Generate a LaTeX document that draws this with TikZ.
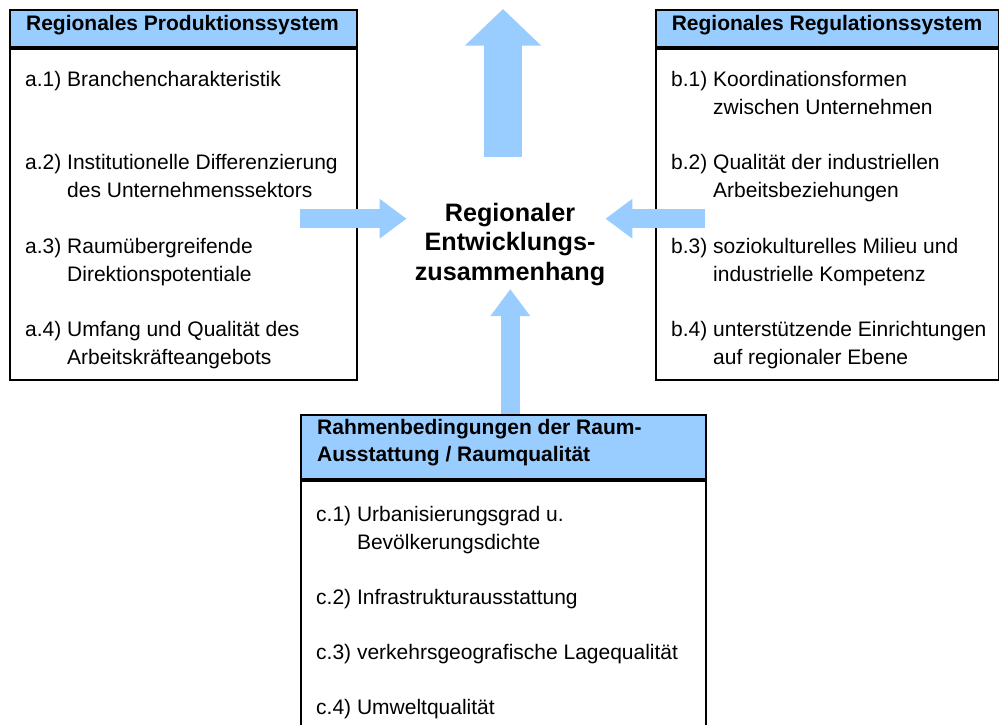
\documentclass[tikz,border=0pt]{standalone}
\usepackage{fontspec}
\setmainfont{Liberation Sans}
\usetikzlibrary{arrows.meta}

\definecolor{hdblue}{RGB}{153,204,255}
\newcommand{\entry}[2]{#1~\begin{tabular}[t]{@{}l@{}}#2\end{tabular}}

\begin{document}
\begin{tikzpicture}[x=1pt, y=-1pt,
	hdbox/.style = {draw, line width=2pt, fill=hdblue, inner sep=0pt},
	bodybox/.style = {draw, line width=2pt, fill=white, inner sep=0pt},
	title/.style = {inner sep=0pt, font=\bfseries\fontsize{21}{26.5}\selectfont},
	entrytext/.style = {anchor=base west, inner sep=0pt,
		font=\fontsize{21}{28}\selectfont},
	barrow/.style = {draw=hdblue, line width=19.3pt,
		-{Triangle[length=27pt, width=38pt]}}]
	
	\useasboundingbox (0,0) rectangle (999,724);
	
	% Production system
	\node[hdbox, minimum width=347pt, minimum height=37pt, anchor=north west] (prodh) at (9,9) {};
	\node[bodybox, minimum width=347pt, minimum height=331pt, anchor=north] (prodb) at (prodh.south) {};
	\node[title, anchor=base] (prodt) at (182.5,30) {Regionales Produktionssystem};
	\node[entrytext] (a1) at (25,86) {\entry{a.1)}{Branchencharakteristik}};
	\node[entrytext] (a2) at (25,169.5) {\entry{a.2)}{Institutionelle Differenzierung\\des Unternehmenssektors}};
	\node[entrytext] (a3) at (25,253) {\entry{a.3)}{Raumübergreifende\\Direktionspotentiale}};
	\node[entrytext] (a4) at (25,336) {\entry{a.4)}{Umfang und Qualität des\\Arbeitskräfteangebots}};
	
	% Regulation system
	\node[hdbox, minimum width=343pt, minimum height=37pt, anchor=north west] (regh) at (655,9) {};
	\node[bodybox, minimum width=343pt, minimum height=331pt, anchor=north] (regb) at (regh.south) {};
	\node[title, anchor=base] (regt) at (827,30) {Regionales Regulationssystem};
	\node[entrytext] (b1) at (671,86) {\entry{b.1)}{Koordinationsformen\\zwischen Unternehmen}};
	\node[entrytext] (b2) at (671,169.5) {\entry{b.2)}{Qualität der industriellen\\Arbeitsbeziehungen}};
	\node[entrytext] (b3) at (671,253) {\entry{b.3)}{soziokulturelles Milieu und\\industrielle Kompetenz}};
	\node[entrytext] (b4) at (671,336) {\entry{b.4)}{unterstützende Einrichtungen\\auf regionaler Ebene}};
	
	% Framework conditions
	\node[hdbox, minimum width=405pt, minimum height=64pt, anchor=north west] (rahmh) at (300,414) {};
	\node[bodybox, minimum width=405pt, minimum height=262pt, anchor=north] (rahmb) at (rahmh.south) {};
	\node[title, anchor=base west] (rahmt) at (317,434.5) {\begin{tabular}[t]{@{}l@{}}Rahmenbedingungen der Raum-\\Ausstattung / Raumqualität\end{tabular}};
	\node[entrytext] (c1) at (316,521.5) {\entry{c.1)}{Urbanisierungsgrad u.\\Bevölkerungsdichte}};
	\node[entrytext] (c2) at (316,604.5) {\entry{c.2)}{Infrastrukturausstattung}};
	\node[entrytext] (c3) at (316,659.5) {\entry{c.3)}{verkehrsgeografische Lagequalität}};
	\node[entrytext] (c4) at (316,714.5) {\entry{c.4)}{Umweltqualität}};
	
	% Centre
	\node[inner sep=0pt, anchor=base, font=\bfseries\fontsize{25.2}{29.3}\selectfont] (ctr) at (510,221.5)
		{\begin{tabular}[t]{@{}c@{}}Regionaler\\Entwicklungs-\\zusammenhang\end{tabular}};
	
	% Arrows
	\coordinate (la) at (300,218.7);
	\coordinate (ra) at (705,218.7);
	\coordinate (ua) at (503,156.7);
	\coordinate (da) at (510.3,414);
	\draw[barrow, shorten >=8pt] (la) -- (la -| ctr.west);
	\draw[barrow] (ra) -- (ra -| ctr.east);
	\draw[barrow] (da) -- (da |- ctr.south);
	\draw[barrow, line width=37.7pt, -{Triangle[length=36.7pt, width=74.3pt]}] (ua) -- (ua |- prodh.north);
	
\end{tikzpicture}
\end{document}
